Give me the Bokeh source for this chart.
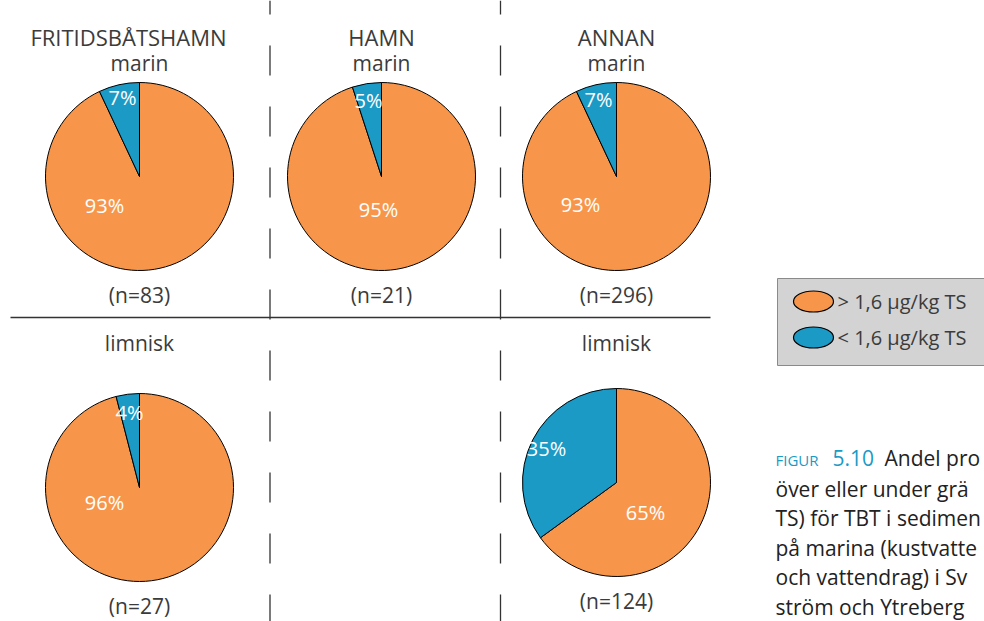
import math
from bokeh.plotting import figure
from bokeh.models import Range1d
from bokeh.core.properties import value
from bokeh.embed import file_html
from bokeh.resources import INLINE

# ---- data ----
groups = ["FRITIDSBÅTSHAMN", "HAMN", "ANNAN", "FRITIDSBÅTSHAMN", "ANNAN"]
habitat = ["marin", "marin", "marin", "limnisk", "limnisk"]
below_pct = [7, 5, 7, 4, 35]      # < 1,6 µg/kg TS
above_pct = [93, 95, 93, 96, 65]  # > 1,6 µg/kg TS
n_samples = [83, 21, 296, 27, 124]
legend_labels = ["> 1,6 µg/kg TS", "< 1,6 µg/kg TS"]
caption_head = ["FIGUR", "5.10", "Andel pro"]
caption_lines = [
    "över eller under grä",
    "TS) för TBT i sedimen",
    "på marina (kustvatte",
    "och vattendrag) i Sv",
    "ström och Ytreberg",
]

# ---- layout (page pixel coordinates) ----
W, H = 984, 621
def Y(py):
    return H - py

centers = [(139, 176), (381, 176), (616, 176), (139, 487), (616, 482)]
R = 94
blue_lbl_off = [(-17, 79), (-13, 76), (-18, 77), (-10, 75), (-70, 34)]
orange_lbl_off = [(-35, -29), (-3, -33), (-36, -28), (-35, -15), (29, -30)]

ORANGE = "#F7964A"
BLUE = "#1B9AC6"
TXT = "#3b3b3b"
FONT = "Open Sans"

p = figure(width=W, height=H, x_range=Range1d(0, W), y_range=Range1d(0, H),
           output_backend="svg", toolbar_location=None, min_border=0)
p.axis.visible = False
p.grid.visible = False
p.outline_line_color = None
p.background_fill_color = "white"

# separators
for xv in [269.5, 500]:
    p.segment(x0=[xv], y0=[Y(0)], x1=[xv], y1=[Y(640)], line_color="#333333",
              line_width=1.3, line_dash="30 31", line_dash_offset=16)
p.segment(x0=[10], y0=[Y(317)], x1=[710], y1=[Y(317)], line_color="#333333", line_width=1.3)

def txt(x, y, s, size, color=TXT, align="center"):
    p.text(x=[x], y=[y], text=[s], text_color=color, text_font=value(FONT),
           text_font_size=size, text_align=align, text_baseline="middle")

# pies
for i, (cx, cy) in enumerate(centers):
    fb = below_pct[i] / 100.0
    start_b = math.pi / 2
    end_b = start_b + fb * 2 * math.pi
    p.wedge(x=[cx], y=[Y(cy)], radius=R, start_angle=[end_b], end_angle=[start_b + 2 * math.pi],
            fill_color=ORANGE, line_color="black", line_width=1)
    p.wedge(x=[cx], y=[Y(cy)], radius=R, start_angle=[start_b], end_angle=[end_b],
            fill_color=BLUE, line_color="black", line_width=1)
    bx, by = blue_lbl_off[i]
    ox, oy = orange_lbl_off[i]
    txt(cx + bx, Y(cy) + by, f"{below_pct[i]}%", "20px", "white")
    txt(cx + ox, Y(cy) + oy, f"{above_pct[i]}%", "20px", "white")
    txt(cx, Y(cy + 118), f"(n={n_samples[i]})", "21px")
    if habitat[i] == "marin":
        txt(cx - (11 if i == 0 else 0), Y(36), groups[i], "22px")
        txt(cx, Y(62), habitat[i], "21px")
    else:
        txt(cx, Y(342), habitat[i], "21px")

# legend box
p.quad(left=[777], right=[1000], top=[Y(278)], bottom=[Y(365)], fill_color="#d3d3d3",
       line_color="#8a8a8a", line_width=1)
for j, (col, lab) in enumerate(zip([ORANGE, BLUE], legend_labels)):
    yy = Y(301 + 36 * j)
    p.ellipse(x=[813], y=[yy], width=40, height=21, fill_color=col, line_color="black", line_width=1.2)
    txt(837, yy, lab, "20px", TXT, "left")

# caption
txt(775, Y(459), caption_head[0], "15px", BLUE, "left")
txt(832, Y(457), caption_head[1], "21px", BLUE, "left")
txt(884, Y(457), caption_head[2], "21px", "#222222", "left")
for k, line in enumerate(caption_lines):
    txt(775, Y(488 + 29.5 * k), line, "21px", "#222222", "left")

open("out.html", "w").write(file_html(p, INLINE))
